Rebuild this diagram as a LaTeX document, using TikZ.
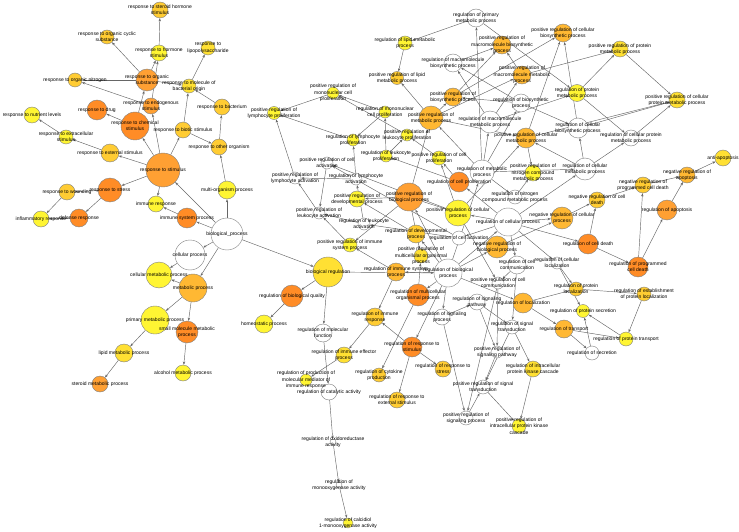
\documentclass[tikz,border=0pt]{standalone}
\usepackage{fontspec}
\setmainfont{Liberation Sans}
\usetikzlibrary{arrows.meta,backgrounds}
\pgfdeclarelayer{fg}
\pgfsetlayers{background,main,fg}
\definecolor{cY}{HTML}{FFF533}
\definecolor{cYG}{HTML}{FFE033}
\definecolor{cG}{HTML}{FFCC33}
\definecolor{cGO}{HTML}{FFB833}
\definecolor{cO}{HTML}{FFA033}
\definecolor{cD}{HTML}{FF8C26}
\definecolor{cW}{HTML}{FFFFFF}
\definecolor{edgec}{HTML}{666666}
\definecolor{bordc}{HTML}{808080}
\tikzset{
  gnode/.style={circle,draw=bordc,line width=0.4pt,inner sep=0pt},
  lbl/.style={inner sep=0pt,align=center,font=\fontsize{5}{6.3}\selectfont,text=black},
  edge/.style={draw=edgec,line width=0.45pt,-{Stealth[length=3.2pt,width=2.4pt]}}
}
\newcommand\gn[6]{\node[gnode,minimum size=#4pt,fill=#5] (#1) at (#2,#3) {};
  \begin{pgfonlayer}{fg}\node[lbl] at (#1) {#6};\end{pgfonlayer}}
\begin{document}
\begin{tikzpicture}[x=1pt,y=-1pt]
\useasboundingbox (0,0) rectangle (739,532);
% response branch
\gn{rSHS}{160}{10}{16}{cG}{response to steroid hormone\\stimulus}
\gn{rOCS}{107}{37}{14}{cG}{response to organic cyclic\\substance}
\gn{rHS}{159}{53}{16}{cY}{response to hormone\\stimulus}
\gn{rON}{75}{80}{14}{cG}{response to organic nitrogen}
\gn{rOS}{147}{80}{22}{cO}{response to organic\\substance}
\gn{rES}{151}{106}{16}{cO}{response to endogenous\\stimulus}
\gn{rDrug}{97}{110}{20}{cD}{response to drug}
\gn{rCS}{135}{126}{28}{cD}{response to chemical\\stimulus}
\gn{rNL}{32}{115}{16}{cY}{response to nutrient levels}
\gn{rExS}{66}{137}{14}{cY}{response to extracellular\\stimulus}
\gn{rExtS}{110}{153}{18}{cG}{response to external stimulus}
\gn{rS}{163}{170}{34}{cO}{response to stimulus}
\gn{rBS}{183}{130}{16}{cG}{response to biotic stimulus}
\gn{rLPS}{208}{48}{14}{cYG}{response to\\lipopolysaccharide}
\gn{rMBO}{189}{86}{14}{cYG}{response to molecule of\\bacterial origin}
\gn{rBact}{222}{107}{16}{cG}{response to bacterium}
\gn{rOO}{219}{147}{16}{cG}{response to other organism}
\gn{mop}{227}{190}{18}{cY}{multi-organism process}
\gn{rWound}{67}{192}{16}{cG}{response to wounding}
\gn{rStress}{110}{190}{24}{cD}{response to stress}
\gn{inflam}{41}{219}{16}{cY}{inflammatory response}
\gn{defense}{79}{218}{18}{cD}{defense response}
\gn{immResp}{156}{204}{16}{cY}{immune response}
\gn{immSys}{187}{218}{20}{cD}{immune system process}
\gn{bp}{227}{234}{32}{cW}{biological\_process}
\gn{cellProc}{190}{255}{30}{cW}{cellular process}
\gn{cmp}{159}{275}{26}{cY}{cellular metabolic process}
\gn{mp}{193}{288}{28}{cGO}{metabolic process}
\gn{pmp}{155}{320}{28}{cY}{primary metabolic process}
\gn{smmp}{187}{332}{22}{cD}{small molecule metabolic\\process}
\gn{lmp}{124}{353}{18}{cYG}{lipid metabolic process}
\gn{smp}{100}{384}{16}{cO}{steroid metabolic process}
\gn{amp}{183}{373}{16}{cY}{alcohol metabolic process}
% regulation
\gn{breg}{328}{272}{30}{cYG}{biological regulation}
\gn{rbq}{292}{296}{22}{cD}{regulation of biological quality}
\gn{homeo}{264}{324}{18}{cY}{homeostatic process}
\gn{rmf}{323}{333}{18}{cW}{regulation of molecular\\function}
\gn{riep}{344}{355}{16}{cYG}{regulation of immune effector\\process}
\gn{rpmm}{306}{380}{12}{cY}{regulation of production of\\molecular mediator of\\immune response}
\gn{rca}{329}{392}{16}{cW}{regulation of catalytic activity}
\gn{roa}{333}{442}{6}{cW}{regulation of oxidoreductase\\activity}
\gn{rma}{339}{485}{6}{cW}{regulation of\\monooxygenase activity}
\gn{rcma}{348}{523}{10}{cY}{regulation of calcidiol\\1-monooxygenase activity}
\gn{rir}{375}{317}{18}{cG}{regulation of immune\\response}
\gn{rcp}{379}{375}{14}{cG}{regulation of cytokine\\production}
\gn{rrs}{443}{369}{16}{cG}{regulation of response to\\stress}
\gn{rres}{397}{400}{16}{cG}{regulation of response to\\external stimulus}
\gn{rrstim}{412}{347}{20}{cD}{regulation of response to\\stimulus}
\gn{rmop}{418}{295}{22}{cD}{regulation of multicellular\\organismal process}
\gn{risp}{396}{272}{18}{cGO}{regulation of immune system\\process}
\gn{rbp}{448}{273}{28}{cW}{regulation of biological\\process}
\gn{prmop}{421}{256}{14}{cYG}{positive regulation of\\multicellular organismal\\process}
\gn{rdp}{416}{234}{18}{cG}{regulation of developmental\\process}
\gn{prbp}{409}{197}{28}{cO}{positive regulation of\\biological process}
\gn{prcp}{458}{213}{26}{cY}{positive regulation of cellular\\process}
\gn{rca2}{459}{238}{14}{cW}{regulation of cell activation}
\gn{nrbp}{497}{247}{22}{cGO}{negative regulation of\\biological process}
\gn{rcellp}{508}{222}{28}{cW}{regulation of cellular process}
\gn{rncmp}{515}{197}{14}{cW}{regulation of nitrogen\\compound metabolic process}
\gn{rcc}{517}{265}{18}{cW}{regulation of cell\\communication}
\gn{prcc}{498}{283}{12}{cW}{positive regulation of cell\\communication}
\gn{rsp}{477}{302}{16}{cW}{regulation of signaling\\pathway}
\gn{rloc}{523}{303}{20}{cGO}{regulation of localization}
\gn{rsproc}{442}{317}{16}{cW}{regulation of signaling\\process}
\gn{rst}{512}{327}{14}{cW}{regulation of signal\\transduction}
\gn{prsp}{497}{352}{12}{cW}{positive regulation of\\signaling pathway}
\gn{prst}{483}{387}{14}{cW}{positive regulation of signal\\transduction}
\gn{prsproc}{466}{418}{14}{cW}{positive regulation of\\signaling process}
\gn{ripkc}{533}{369}{16}{cYG}{regulation of intracellular\\protein kinase cascade}
\gn{pripkc}{519}{426}{14}{cY}{positive regulation of\\intracellular protein kinase\\cascade}
\gn{rcl}{557}{263}{12}{cW}{regulation of cellular\\localization}
\gn{rpl}{576}{289}{14}{cG}{regulation of protein\\localization}
\gn{repl}{644}{294}{14}{cG}{regulation of establishment\\of protein localization}
\gn{rps}{583}{311}{13}{cY}{regulation of protein secretion}
\gn{rtr}{564}{329}{18}{cGO}{regulation of transport}
\gn{rpt}{626}{339}{14}{cY}{regulation of protein transport}
\gn{rsec}{592}{353}{14}{cW}{regulation of secretion}
\gn{rcd}{588}{244}{20}{cD}{regulation of cell death}
\gn{rpcd}{638}{267}{20}{cD}{regulation of programmed\\cell death}
\gn{rapo}{667}{210}{20}{cO}{regulation of apoptosis}
\gn{nrcd}{597}{200}{16}{cG}{negative regulation of cell\\death}
\gn{nrpcd}{643}{185}{16}{cG}{negative regulation of\\programmed cell death}
\gn{nrcp}{562}{218}{22}{cGO}{negative regulation of cellular\\process}
\gn{nrapo}{687}{175}{16}{cGO}{negative regulation of\\apoptosis}
\gn{antiapo}{723}{158}{16}{cYG}{anti-apoptosis}
\gn{rcmp}{585}{169}{22}{cW}{regulation of cellular\\metabolic process}
\gn{rcbp}{578}{128}{20}{cW}{regulation of cellular\\biosynthetic process}
\gn{rcpmp}{631}{138}{16}{cW}{regulation of cellular protein\\metabolic process}
\gn{rprmp}{577}{93}{17}{cY}{regulation of protein\\metabolic process}
\gn{prpmp}{620}{49}{16}{cYG}{positive regulation of protein\\metabolic process}
\gn{prcpmp}{677}{100}{16}{cYG}{positive regulation of cellular\\protein metabolic process}
\gn{prcbp}{563}{33}{18}{cGO}{positive regulation of cellular\\biosynthetic process}
\gn{rpmp}{476}{18}{18}{cW}{regulation of primary\\metabolic process}
\gn{rlmp}{405}{43}{14}{cY}{regulation of lipid metabolic\\process}
\gn{prmbp}{502}{45}{18}{cGO}{positive regulation of\\macromolecule biosynthetic\\process}
\gn{rmbp}{453}{63}{18}{cW}{regulation of macromolecule\\biosynthetic process}
\gn{prlmp}{397}{78}{13}{cG}{positive regulation of lipid\\metabolic process}
\gn{prmmp}{522}{75}{18}{cGO}{positive regulation of\\macromolecule metabolic\\process}
\gn{prbsp}{453}{97}{18}{cGO}{positive regulation of\\biosynthetic process}
\gn{rbsp}{521}{103}{18}{cW}{regulation of biosynthetic\\process}
\gn{prmetp}{431}{118}{24}{cGO}{positive regulation of\\metabolic process}
\gn{rmmp}{490}{122}{22}{cW}{regulation of macromolecule\\metabolic process}
\gn{prcmp}{526}{138}{20}{cGO}{positive regulation of cellular\\metabolic process}
\gn{rmcp}{385}{112}{12}{cY}{regulation of mononuclear\\cell proliferation}
\gn{prlp}{407}{135}{12}{cY}{positive regulation of\\leukocyte proliferation}
\gn{rlp}{386}{156}{12}{cY}{regulation of leukocyte\\proliferation}
\gn{prcpro}{439}{158}{14}{cY}{positive regulation of cell\\proliferation}
\gn{rmetp}{482}{172}{24}{cW}{regulation of metabolic\\process}
\gn{rcpro}{459}{182}{20}{cD}{regulation of cell proliferation}
\gn{prncmp}{533}{173}{16}{cY}{positive regulation of\\nitrogen compound\\metabolic process}
\gn{prmcp}{333}{93}{12}{cY}{positive regulation of\\mononuclear cell\\proliferation}
\gn{prlyp}{274}{113}{13}{cY}{positive regulation of\\lymphocyte proliferation}
\gn{rlyp}{353}{140}{12}{cY}{regulation of lymphocyte\\proliferation}
\gn{prca}{327}{163}{12}{cW}{positive regulation of cell\\activation}
\gn{prla}{295}{178}{12}{cW}{positive regulation of\\lymphocyte activation}
\gn{rla}{356}{179}{12}{cW}{regulation of lymphocyte\\activation}
\gn{prleuka}{319}{213}{12}{cW}{positive regulation of\\leukocyte activation}
\gn{prdp}{357}{199}{16}{cY}{positive regulation of\\developmental process}
\gn{rleuka}{364}{224}{12}{cW}{regulation of leukocyte\\activation}
\gn{prisp}{350}{245}{14}{cY}{positive regulation of immune\\system process}
\begin{scope}[on background layer]
\foreach \a/\b in {rS/rCS,rS/rExtS,rS/rBS,rS/rStress,rS/rES,rS/immResp,
 rCS/rDrug,rCS/rOS,rES/rON,rES/rHS,rOS/rOCS,rOS/rHS,rOS/rON,rOS/rMBO,rHS/rSHS,
 rExtS/rExS,rExS/rNL,rBS/rMBO,rBS/rOO,rOO/rBact,rBact/rMBO,rMBO/rLPS,mop/rOO,
 rStress/rWound,rStress/defense,rWound/inflam,defense/inflam,immSys/immResp,
 bp/rS,bp/mop,bp/immSys,bp/cellProc,bp/mp,bp/breg,cellProc/cmp,mp/cmp,mp/pmp,mp/smmp,
 pmp/lmp,lmp/smp,smmp/amp,breg/rbq,breg/rmf,breg/rbp,rbq/homeo,rmf/rca,rca/roa,roa/rma,rma/rcma,
 riep/rpmm,risp/rir,rrstim/rir,rir/riep,
 rbp/rrstim,rbp/rmop,rbp/risp,rbp/rdp,rbp/rcellp,rbp/rsproc,rbp/rloc,rbp/rmetp,rbp/prbp,rbp/nrbp,
 rrstim/rrs,rrstim/rres,risp/prisp,rmop/prmop,rmop/rcp,rdp/prdp,
 prbp/prcp,prbp/prmetp,prbp/prdp,prbp/prmop,prbp/prisp,
 rcellp/rcpro,rcellp/rcc,rcellp/rcmp,rcellp/rcd,rcellp/prcp,rcellp/nrcp,rcellp/rca2,rcellp/rcl,
 nrbp/nrcp,rcc/prcc,rcc/rst,rsproc/rsp,rsproc/prsproc,rsp/prsp,rsp/rst,rst/prst,rst/ripkc,
 prsp/prst,prst/pripkc,ripkc/pripkc,prcc/prsproc,prcc/prsp,prsproc/prst,
 rloc/rtr,rloc/rpl,rcl/rps,rcl/rpl,rpl/repl,repl/rpt,rtr/rpt,rtr/rsec,rsec/rps,rpt/rps,
 rcd/nrcd,rcd/rpcd,rpcd/rapo,rpcd/nrpcd,nrcd/nrpcd,nrcp/nrcd,rapo/nrapo,nrpcd/nrapo,nrapo/antiapo,
 rmetp/rpmp,rmetp/rmmp,rmetp/rbsp,rmetp/rcmp,rmetp/prmetp,rmetp/rncmp,
 rpmp/rlmp,rpmp/rprmp,rlmp/prlmp,prmetp/prlmp,prmetp/prbsp,prmetp/prmmp,prmetp/prcmp,
 rmmp/rmbp,rmmp/prmmp,rmmp/rprmp,rbsp/rmbp,rbsp/prbsp,rbsp/rcbp,rmbp/prmbp,
 prbsp/prmbp,prbsp/prcbp,prmmp/prmbp,prmmp/prpmp,prcmp/prcbp,prcmp/prcpmp,prcmp/prncmp,
 rcmp/rcbp,rcmp/rcpmp,rcmp/prcmp,rcbp/prcbp,rcbp/prcpmp,rprmp/prpmp,rprmp/rcpmp,
 prpmp/prcpmp,rcpmp/prcpmp,rncmp/prncmp,
 prcp/prcpro,prcp/prcmp,prcp/prca,prcp/prcc,rcpro/rlp,rcpro/prcpro,
 rlp/rmcp,rlp/prlp,rmcp/rlyp,rmcp/prmcp,prlp/prmcp,prcpro/prlp,prmcp/prlyp,rlyp/prlyp,
 prla/prlyp,rla/rlyp,rla/prla,rleuka/rla,rleuka/prleuka,rca2/rleuka,rca2/prca,
 prca/prleuka,prleuka/prla,prisp/prleuka}
 \draw[edge] (\a) -- (\b);
\end{scope}
\end{tikzpicture}
\end{document}
